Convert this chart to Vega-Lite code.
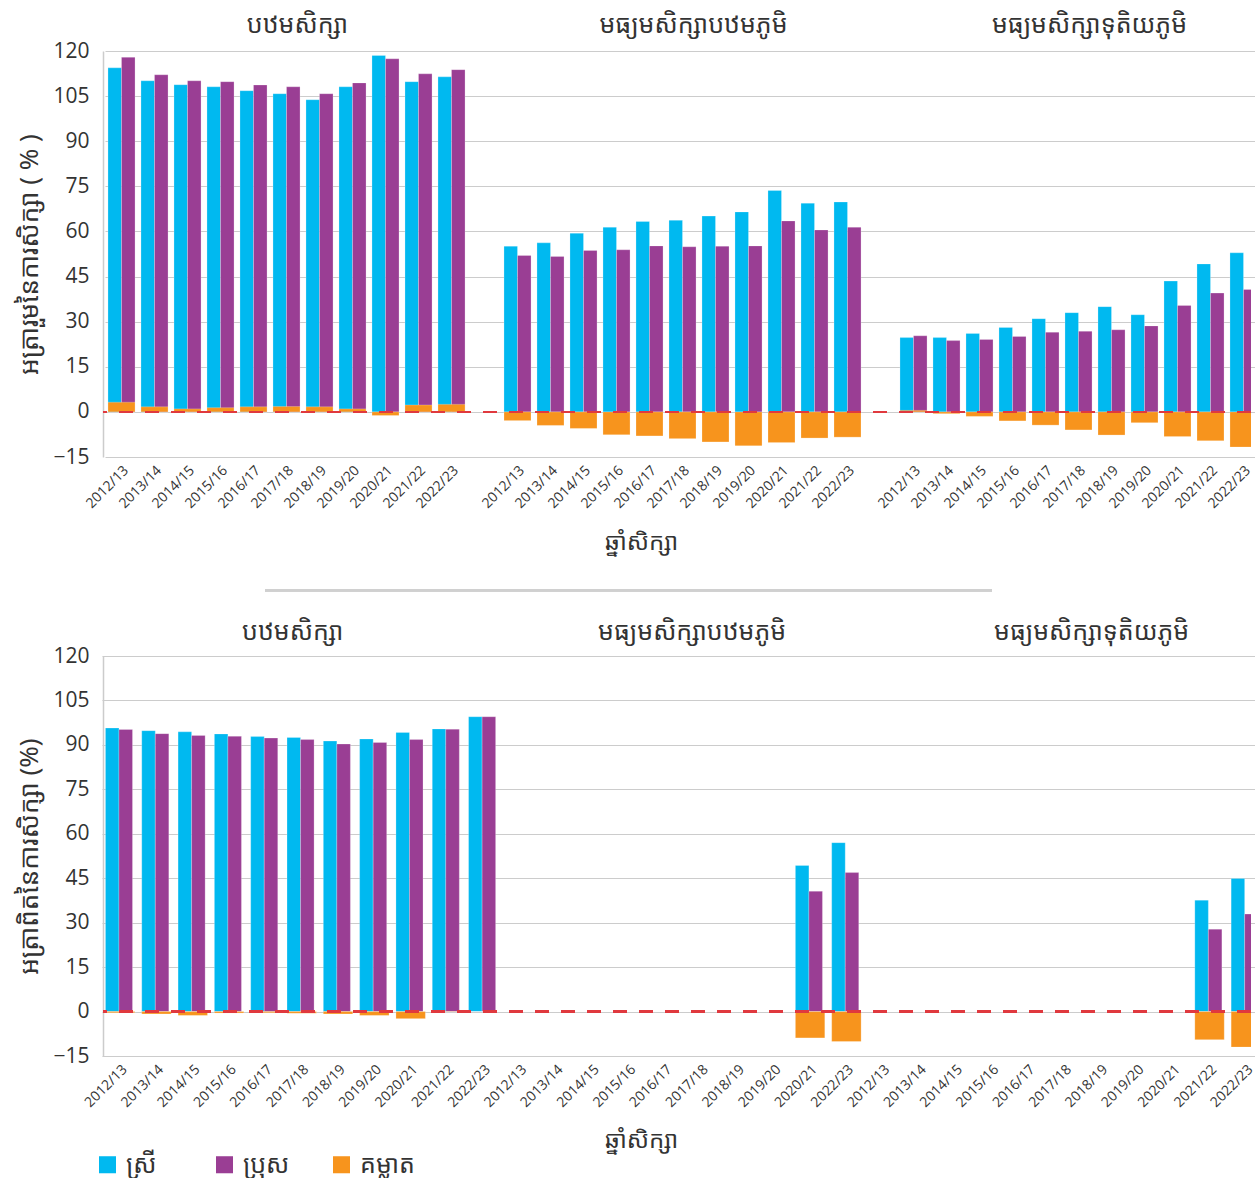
{
  "$schema": "https://vega.github.io/schema/vega-lite/v6.json",
  "background": "white",
  "padding": {"left": 16, "top": 12, "right": 0, "bottom": 0},
  "config": {
    "font": "Noto Sans Khmer, Khmer OS, Noto Serif Khmer, Open Sans, sans-serif",
    "view": {"stroke": null},
    "axis": {"labelColor": "#333333", "titleColor": "#333333", "titleFontWeight": "normal"}
  },
  "datasets": {
    "top": [
      {"s": "1|2012/13", "ស្រី": 114.4, "ប្រុស": 117.9, "គម្លាត": 3.2},
      {"s": "1|2013/14", "ស្រី": 110.1, "ប្រុស": 112.1, "គម្លាត": 1.7},
      {"s": "1|2014/15", "ស្រី": 108.8, "ប្រុស": 110.1, "គម្លាត": 1.0},
      {"s": "1|2015/16", "ស្រី": 108.1, "ប្រុស": 109.8, "គម្លាត": 1.4},
      {"s": "1|2016/17", "ស្រី": 106.8, "ប្រុស": 108.7, "គម្លាត": 1.7},
      {"s": "1|2017/18", "ស្រី": 105.8, "ប្រុស": 108.1, "គម្លាត": 1.8},
      {"s": "1|2018/19", "ស្រី": 103.8, "ប្រុស": 105.8, "គម្លាត": 1.7},
      {"s": "1|2019/20", "ស្រី": 108.1, "ប្រុស": 109.4, "គម្លាត": 1.0},
      {"s": "1|2020/21", "ស្រី": 118.5, "ប្រុស": 117.4, "គម្លាត": -1.2},
      {"s": "1|2021/22", "ស្រី": 109.8, "ប្រុស": 112.4, "គម្លាត": 2.3},
      {"s": "1|2022/23", "ស្រី": 111.4, "ប្រុស": 113.8, "គម្លាត": 2.5},
      {"s": "2|2012/13", "ស្រី": 55.1, "ប្រុស": 52.0, "គម្លាត": -2.9},
      {"s": "2|2013/14", "ស្រី": 56.2, "ប្រុស": 51.7, "គម្លាត": -4.5},
      {"s": "2|2014/15", "ស្រី": 59.4, "ប្រុស": 53.7, "គម្លាត": -5.5},
      {"s": "2|2015/16", "ស្រី": 61.4, "ប្រុស": 53.9, "គម្លាត": -7.6},
      {"s": "2|2016/17", "ស្រី": 63.3, "ប្រុស": 55.2, "គម្លាត": -8.0},
      {"s": "2|2017/18", "ស្រី": 63.7, "ប្រុស": 54.9, "គម្លាត": -8.9},
      {"s": "2|2018/19", "ស្រី": 65.1, "ប្រុស": 55.1, "គម្លាត": -10.0},
      {"s": "2|2019/20", "ស្រី": 66.5, "ប្រុស": 55.2, "គម្លាត": -11.3},
      {"s": "2|2020/21", "ស្រី": 73.6, "ប្រុស": 63.5, "គម្លាត": -10.2},
      {"s": "2|2021/22", "ស្រី": 69.4, "ប្រុស": 60.5, "គម្លាត": -8.7},
      {"s": "2|2022/23", "ស្រី": 69.8, "ប្រុស": 61.4, "គម្លាត": -8.4},
      {"s": "3|2012/13", "ស្រី": 24.7, "ប្រុស": 25.3, "គម្លាត": 0.5},
      {"s": "3|2013/14", "ស្រី": 24.7, "ប្រុស": 23.7, "គម្លាត": -0.6},
      {"s": "3|2014/15", "ស្រី": 26.1, "ប្រុស": 24.1, "គម្លាត": -1.5},
      {"s": "3|2015/16", "ស្រី": 28.1, "ប្រុស": 25.1, "គម្លាត": -3.0},
      {"s": "3|2016/17", "ស្រី": 31.0, "ប្រុស": 26.5, "គម្លាត": -4.4},
      {"s": "3|2017/18", "ស្រី": 33.0, "ប្រុស": 26.8, "គម្លាត": -6.0},
      {"s": "3|2018/19", "ស្រី": 35.0, "ប្រុស": 27.3, "គម្លាត": -7.7},
      {"s": "3|2019/20", "ស្រី": 32.3, "ប្រុស": 28.6, "គម្លាត": -3.6},
      {"s": "3|2020/21", "ស្រី": 43.5, "ប្រុស": 35.4, "គម្លាត": -8.2},
      {"s": "3|2021/22", "ស្រី": 49.2, "ប្រុស": 39.5, "គម្លាត": -9.6},
      {"s": "3|2022/23", "ស្រី": 52.9, "ប្រុស": 40.7, "គម្លាត": -11.7}
    ],
    "bottom": [
      {"s": "1|2012/13", "ស្រី": 95.7, "ប្រុស": 95.2, "គម្លាត": -0.4},
      {"s": "1|2013/14", "ស្រី": 94.8, "ប្រុស": 93.8, "គម្លាត": -0.8},
      {"s": "1|2014/15", "ស្រី": 94.4, "ប្រុស": 93.2, "គម្លាត": -1.3},
      {"s": "1|2015/16", "ស្រី": 93.7, "ប្រុស": 92.9, "គម្លាត": -0.5},
      {"s": "1|2016/17", "ស្រី": 92.8, "ប្រុស": 92.3, "គម្លាត": -0.4},
      {"s": "1|2017/18", "ស្រី": 92.5, "ប្រុស": 91.8, "គម្លាត": -0.6},
      {"s": "1|2018/19", "ស្រី": 91.3, "ប្រុស": 90.3, "គម្លាត": -0.8},
      {"s": "1|2019/20", "ស្រី": 92.0, "ប្រុស": 90.8, "គម្លាត": -1.3},
      {"s": "1|2020/21", "ស្រី": 94.2, "ប្រុស": 91.8, "គម្លាត": -2.4},
      {"s": "1|2021/22", "ស្រី": 95.4, "ប្រុស": 95.3, "គម្លាត": -0.1},
      {"s": "1|2022/23", "ស្រី": 99.5, "ប្រុស": 99.5, "គម្លាត": 0},
      {"s": "2|2020/21", "ស្រី": 49.3, "ប្រុស": 40.6, "គម្លាត": -8.9},
      {"s": "2|2022/23", "ស្រី": 57.0, "ប្រុស": 46.9, "គម្លាត": -10.1},
      {"s": "3|2021/22", "ស្រី": 37.6, "ប្រុស": 27.8, "គម្លាត": -9.5},
      {"s": "3|2022/23", "ស្រី": 44.9, "ប្រុស": 32.9, "គម្លាត": -12.0}
    ]
  },
  "spacing": 34,
  "resolve": {"scale": {"color": "independent"}},
  "vconcat": [
    {
      "width": 1148,
      "height": 406,
      "data": {"name": "top"},
      "transform": [{"fold": ["ស្រី", "ប្រុស", "គម្លាត"], "as": ["k", "v"]}],
      "resolve": {"axis": {"x": "independent"}},
      "layer": [
        {
          "transform": [{"filter": "datum.k != 'គម្លាត'"}],
          "mark": {"type": "bar", "clip": true, "stroke": "white", "strokeOpacity": 0.4, "strokeWidth": 0.6},
          "encoding": {
            "x": {
              "field": "s", "type": "nominal",
              "scale": {
                "domain": ["1|2012/13","1|2013/14","1|2014/15","1|2015/16","1|2016/17","1|2017/18","1|2018/19","1|2019/20","1|2020/21","1|2021/22","1|2022/23","gap1","2|2012/13","2|2013/14","2|2014/15","2|2015/16","2|2016/17","2|2017/18","2|2018/19","2|2019/20","2|2020/21","2|2021/22","2|2022/23","gap2","3|2012/13","3|2013/14","3|2014/15","3|2015/16","3|2016/17","3|2017/18","3|2018/19","3|2019/20","3|2020/21","3|2021/22","3|2022/23"],
                "range": [2, 1157], "paddingInner": 0.18, "paddingOuter": 0.09
              },
              "axis": {
                "orient": "bottom", "labelAngle": -45, "labelFontSize": 14, "labelFont": "Open Sans",
                "ticks": false, "domain": false, "grid": false, "labelPadding": 6,
                "labelExpr": "indexof(datum.value, '|') > 0 ? split(datum.value, '|')[1] : ''",
                "title": "ឆ្នាំសិក្សា", "titleFontSize": 24, "titleX": 538, "titlePadding": 20
              }
            },
            "xOffset": {"field": "k", "type": "nominal", "scale": {"domain": ["ស្រី", "ប្រុស"]}},
            "y": {
              "field": "v", "type": "quantitative",
              "scale": {"domain": [-15, 120], "nice": false, "zero": false},
              "axis": {
                "values": [-15, 0, 15, 30, 45, 60, 75, 90, 105, 120],
                "grid": true, "gridColor": "#cccccc", "gridWidth": 1.2,
                "domain": true, "domainColor": "#cccccc", "domainWidth": 1.5,
                "ticks": false, "labelFontSize": 21, "labelFont": "Open Sans", "labelPadding": 14,
                "title": "អត្រារួមនៃការសិក្សា ( % )", "titleFontSize": 26, "titlePadding": 10
              }
            },
            "color": {
              "field": "k", "type": "nominal",
              "scale": {"domain": ["ស្រី", "ប្រុស", "គម្លាត"], "range": ["#00B9F0", "#9A3E94", "#F7941D"]},
              "legend": null
            }
          }
        },
        {
          "transform": [{"filter": "datum.k == 'គម្លាត'"}],
          "mark": {"type": "bar", "clip": true, "stroke": "white", "strokeOpacity": 0.4, "strokeWidth": 0.6},
          "encoding": {
            "x": {
              "field": "s", "type": "nominal",
              "axis": {
                "orient": "top", "labelAngle": 0, "labelFontSize": 25, "labelOverlap": false, "labelLimit": 0,
                "ticks": false, "domain": false, "grid": false, "labelPadding": 14, "labelOffset": 11,
                "labelExpr": "datum.value == '1|2017/18' ? 'បឋមសិក្សា' : datum.value == '2|2017/18' ? 'មធ្យមសិក្សាបឋមភូមិ' : datum.value == '3|2017/18' ? 'មធ្យមសិក្សាទុតិយភូមិ' : ''",
                "title": null
              }
            },
            "y": {"field": "v", "type": "quantitative"},
            "color": {"field": "k", "type": "nominal", "legend": null}
          }
        },
        {
          "mark": {"type": "rule", "color": "#E0393E", "strokeWidth": 2, "strokeDash": [14, 12]},
          "encoding": {"y": {"datum": 0}}
        }
      ]
    },
    {
      "width": 1148,
      "height": 400,
      "data": {"name": "bottom"},
      "transform": [{"fold": ["ស្រី", "ប្រុស", "គម្លាត"], "as": ["k", "v"]}],
      "resolve": {"axis": {"x": "independent"}},
      "layer": [
        {
          "transform": [{"filter": "datum.k != 'គម្លាត'"}],
          "mark": {"type": "bar", "clip": true, "stroke": "white", "strokeOpacity": 0.4, "strokeWidth": 0.6},
          "encoding": {
            "x": {
              "field": "s", "type": "nominal",
              "scale": {
                "domain": ["1|2012/13","1|2013/14","1|2014/15","1|2015/16","1|2016/17","1|2017/18","1|2018/19","1|2019/20","1|2020/21","1|2021/22","1|2022/23","2|2012/13","2|2013/14","2|2014/15","2|2015/16","2|2016/17","2|2017/18","2|2018/19","2|2019/20","2|2020/21","2|2022/23","3|2012/13","3|2013/14","3|2014/15","3|2015/16","3|2016/17","3|2017/18","3|2018/19","3|2019/20","3|2020/21","3|2021/22","3|2022/23"],
                "range": [-1, 1161], "paddingInner": 0.19, "paddingOuter": 0.095
              },
              "axis": {
                "orient": "bottom", "labelAngle": -45, "labelFontSize": 14, "labelFont": "Open Sans",
                "ticks": false, "domain": false, "grid": false, "labelPadding": 6,
                "labelExpr": "indexof(datum.value, '|') > 0 ? split(datum.value, '|')[1] : ''",
                "title": "ឆ្នាំសិក្សា", "titleFontSize": 24, "titleX": 538, "titlePadding": 19
              }
            },
            "xOffset": {"field": "k", "type": "nominal", "scale": {"domain": ["ស្រី", "ប្រុស"]}},
            "y": {
              "field": "v", "type": "quantitative",
              "scale": {"domain": [-15, 120], "nice": false, "zero": false},
              "axis": {
                "values": [-15, 0, 15, 30, 45, 60, 75, 90, 105, 120],
                "grid": true, "gridColor": "#cccccc", "gridWidth": 1.2,
                "domain": true, "domainColor": "#cccccc", "domainWidth": 1.5,
                "ticks": false, "labelFontSize": 21, "labelFont": "Open Sans", "labelPadding": 14,
                "title": "អត្រាពិតនៃការសិក្សា (%)", "titleFontSize": 26, "titlePadding": 10
              }
            },
            "color": {
              "field": "k", "type": "nominal",
              "scale": {"domain": ["ស្រី", "ប្រុស", "គម្លាត"], "range": ["#00B9F0", "#9A3E94", "#F7941D"]},
              "legend": {
                "orient": "none", "legendX": -8, "legendY": 496, "direction": "horizontal",
                "title": null, "symbolType": "square", "symbolSize": 290, "symbolStrokeWidth": 0,
                "labelFontSize": 25, "labelOffset": 6, "columnPadding": 31, "gridAlign": "all",
                "labelLimit": 0, "labelColor": "#333333"
              }
            }
          }
        },
        {
          "transform": [{"filter": "datum.k == 'គម្លាត'"}],
          "mark": {"type": "bar", "clip": true, "stroke": "white", "strokeOpacity": 0.4, "strokeWidth": 0.6},
          "encoding": {
            "x": {
              "field": "s", "type": "nominal",
              "axis": {
                "orient": "top", "labelAngle": 0, "labelFontSize": 25, "labelOverlap": false, "labelLimit": 0,
                "ticks": false, "domain": false, "grid": false, "labelPadding": 12, "labelOffset": -9,
                "labelExpr": "datum.value == '1|2017/18' ? 'បឋមសិក្សា' : datum.value == '2|2017/18' ? 'មធ្យមសិក្សាបឋមភូមិ' : datum.value == '3|2018/19' ? 'មធ្យមសិក្សាទុតិយភូមិ' : ''",
                "title": null
              }
            },
            "y": {"field": "v", "type": "quantitative"},
            "color": {"field": "k", "type": "nominal"}
          }
        },
        {
          "mark": {"type": "rule", "color": "#E0393E", "strokeWidth": 2, "strokeDash": [14, 12]},
          "encoding": {"y": {"datum": 0}}
        },
        {
          "mark": {"type": "rule", "color": "#d0d0d0", "strokeWidth": 2},
          "encoding": {
            "x": {"datum": "1|2016/17", "type": "nominal", "axis": null},
            "x2": {"datum": "3|2015/16"},
            "y": {"datum": 142}
          }
        }
      ]
    }
  ]
}
